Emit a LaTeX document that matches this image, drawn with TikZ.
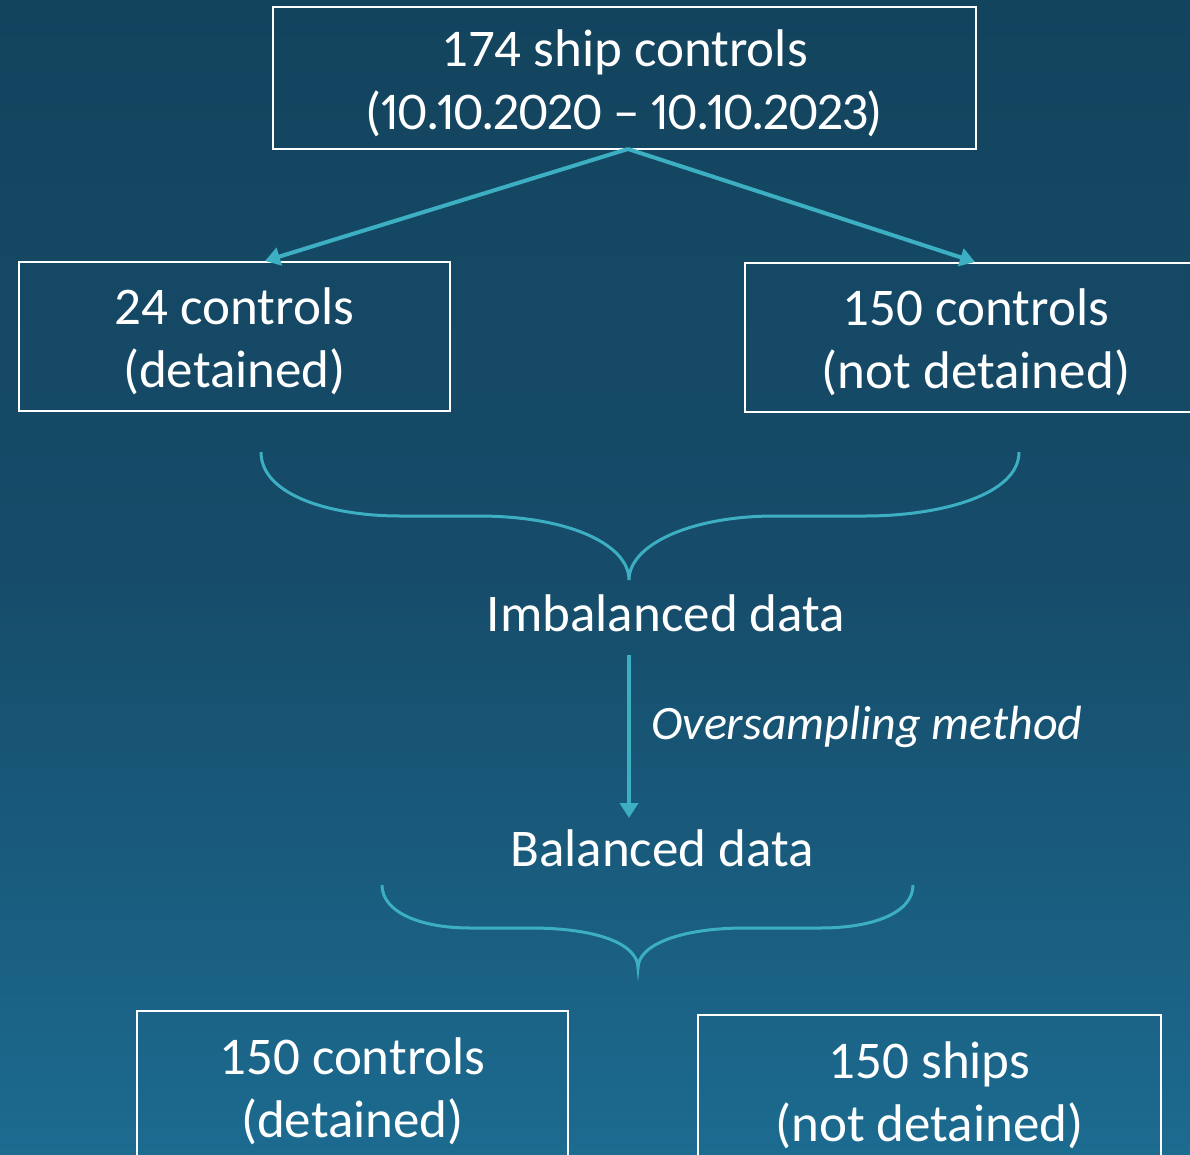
\documentclass[tikz,border=0pt]{standalone}
\usepackage{fontspec}
\setmainfont{Carlito}
\usetikzlibrary{arrows.meta}
\definecolor{bgtop}{HTML}{13445E}
\definecolor{bgmid}{HTML}{164C6A}
\definecolor{bgbot}{HTML}{1C6B90}
\definecolor{teal}{HTML}{3DAFC2}
\pgfdeclareverticalshading{bgshade}{100bp}{color(0bp)=(bgbot); color(25bp)=(bgbot); color(50bp)=(bgmid); color(75bp)=(bgtop); color(100bp)=(bgtop)}
\newcommand{\tstrut}{\rule{0pt}{47pt}}
\tikzset{
  box/.style={draw=white, line width=2pt, inner sep=0pt, align=center, text=white,
    font=\fontsize{53}{63}\selectfont},
  lbl/.style={text=white, inner sep=0pt, font=\fontsize{53}{63}\selectfont},
  conn/.style={draw=teal, line width=4pt, -{Triangle[width=18pt,length=15pt]}},
  brace/.style={draw=teal, line width=3pt}
}
\begin{document}
\begin{tikzpicture}[x=1pt,y=-1pt]
\useasboundingbox (0,0) rectangle (1190,1155);
\clip (0,0) rectangle (1190,1155);
\shade[shading=bgshade] (0,0) rectangle (1190,1155);
% boxes
\node[box, minimum width=703pt, minimum height=142pt] (b1) at (624.5,78) {\tstrut 174 ship controls\\{\addfontfeatures{Numbers=Proportional,LetterSpace=-2.2}(10.10.2020 – 10.10.2023)}};
\node[box, minimum width=431pt, minimum height=149pt] (b2) at (234.5,336.5) {\tstrut 24 controls\\(detained)};
\node[box, minimum width=462pt, minimum height=149pt] (b3) at (976,337.5) {\tstrut 150 controls\\(not detained)};
\node[box, minimum width=431pt, minimum height=151pt] (b4) at (352.5,1086.5) {\tstrut 150 controls\\(detained)};
\node[box, minimum width=463pt, minimum height=150pt] (b5) at (929.5,1090) {\tstrut 150 ships\\(not detained)};
% labels
\node[lbl] (imb) at (666,613) {Imbalanced data};
\node[lbl] (bal) at (662,848) {Balanced data};
\node[lbl, anchor=west, font=\fontsize{48}{56}\selectfont\itshape] (ovs) at (651,727) {Oversampling method};
% arrows
\coordinate (s1) at (628,149);
\draw[conn] (s1) -- (b2.north -| 265,0) ;
\draw[conn] (s1) -- (b3.north -| 975,0);
\coordinate (v1) at (629,655);
\coordinate (v2) at (629,818);
\draw[conn] (v1) -- (v2);
% brace 1
\coordinate (br1l) at (261,452);
\coordinate (br1t) at (629,580);
\coordinate (br1r) at (1019,452);
\draw[brace] (br1l) .. controls (261,495) and (330,516) .. (400,516) -- (478,516)
  .. controls (570,516) and (629,545) .. (br1t)
  .. controls (629,545) and (690,516) .. (775,516) -- (865,516)
  .. controls (940,516) and (1019,495) .. (br1r);
% brace 2
\coordinate (br2l) at (382,885);
\coordinate (br2t) at (638,968);
\coordinate (br2r) at (913,885);
\draw[brace] (br2l) .. controls (382,912) and (420,928) .. (470,928) -- (530,928)
  .. controls (600,928) and (638,945) .. (br2t)
  .. controls (638,945) and (680,928) .. (745,928) -- (820,928)
  .. controls (875,928) and (913,912) .. (br2r);
\end{tikzpicture}
\end{document}
